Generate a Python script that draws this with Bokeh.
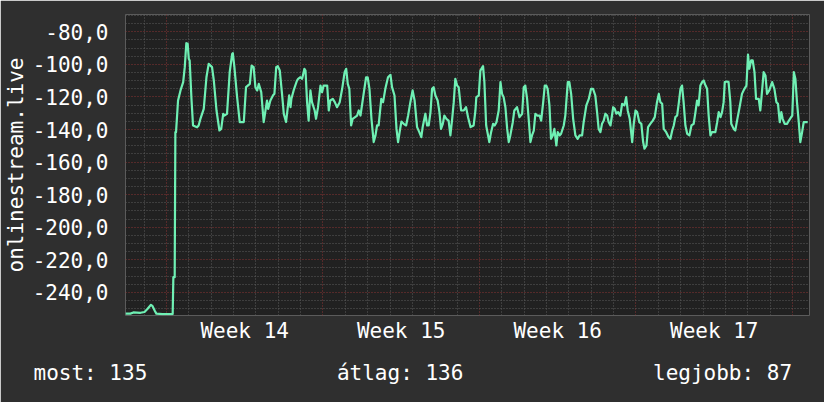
from bokeh.plotting import figure
from bokeh.models import FixedTicker, Range1d, Title
from bokeh.embed import file_html
from bokeh.resources import INLINE

# ---- data (days since start of Week 14, value) ----
days = [
    -1.83, -1.61, -1.48, -1.16, -0.98, -0.85, -0.69, -0.63, -0.51, -0.45,
    -0.18, 0.28, 0.31, 0.37, 0.40, 0.43, 0.52, 0.63, 0.75, 0.82,
    0.89, 0.95, 1.00, 1.04, 1.12, 1.19, 1.37, 1.44, 1.52, 1.67,
    1.79, 1.89, 2.04, 2.12, 2.24, 2.37, 2.45, 2.54, 2.59, 2.71,
    2.83, 2.94, 2.97, 3.04, 3.16, 3.28, 3.46, 3.56, 3.73, 3.81,
    3.90, 3.98, 4.06, 4.13, 4.24, 4.35, 4.43, 4.50, 4.55, 4.65,
    4.77, 4.83, 4.91, 4.98, 5.07, 5.17, 5.25, 5.35, 5.42, 5.49,
    5.55, 5.59, 5.69, 5.84, 5.89, 5.99, 6.07, 6.17, 6.22, 6.29,
    6.36, 6.44, 6.51, 6.63, 6.69, 6.78, 6.89, 6.96, 7.03, 7.19,
    7.26, 7.33, 7.44, 7.53, 7.63, 7.75, 7.86, 7.97, 8.04, 8.11,
    8.18, 8.26, 8.33, 8.53, 8.60, 8.68, 8.82, 8.93, 9.00, 9.08,
    9.17, 9.27, 9.35, 9.42, 9.49, 9.61, 9.69, 9.79, 9.91, 10.02,
    10.09, 10.20, 10.29, 10.36, 10.43, 10.51, 10.61, 10.72, 10.81, 10.91,
    11.01, 11.10, 11.21, 11.31, 11.40, 11.46, 11.58, 11.66, 11.73, 11.81,
    11.88, 11.95, 12.03, 12.13, 12.21, 12.28, 12.36, 12.43, 12.52, 12.62,
    12.70, 12.78, 12.85, 12.92, 13.00, 13.07, 13.18, 13.30, 13.40, 13.49,
    13.60, 13.74, 13.82, 13.86, 13.97, 14.04, 14.16, 14.22, 14.30, 14.37,
    14.44, 14.52, 14.61, 14.68, 14.76, 14.86, 14.94, 15.01, 15.08, 15.16,
    15.24, 15.31, 15.38, 15.49, 15.56, 15.68, 15.79, 15.91, 15.98, 16.05,
    16.13, 16.20, 16.28, 16.35, 16.43, 16.50, 16.58, 16.69, 16.76, 16.85,
    16.92, 16.99, 17.05, 17.13, 17.20, 17.28, 17.35, 17.44, 17.50, 17.59,
    17.65, 17.77, 17.84, 17.95, 18.02, 18.10, 18.19, 18.29, 18.39, 18.48,
    18.59, 18.66, 18.78, 18.89, 18.99, 19.08, 19.18, 19.26, 19.33, 19.41,
    19.48, 19.56, 19.63, 19.71, 19.78, 19.86, 19.98, 20.05, 20.12, 20.20,
    20.30, 20.38, 20.48, 20.56, 20.63, 20.72, 20.83, 20.90, 20.98, 21.05,
    21.15, 21.24, 21.32, 21.38, 21.47, 21.54, 21.64, 21.75, 21.84, 21.94,
    22.02, 22.09, 22.17, 22.24, 22.35, 22.46, 22.54, 22.62, 22.69, 22.76,
    22.84, 22.91, 22.99, 23.06, 23.13, 23.21, 23.29, 23.39, 23.48, 23.58,
    23.66, 23.73, 23.80, 23.88, 23.96, 24.03, 24.11, 24.18, 24.25, 24.33,
    24.40, 24.55, 24.63, 24.70, 24.78, 24.85, 24.92, 24.97, 25.07, 25.14,
    25.22, 25.26, 25.37, 25.44, 25.52, 25.62, 25.74, 25.85, 25.94, 26.01,
    26.07, 26.15, 26.22, 26.30, 26.37, 26.49, 26.56, 26.64, 26.71, 26.79,
    26.86, 26.96, 27.09, 27.19, 27.28, 27.35, 27.43, 27.50, 27.56, 27.65,
    27.76, 27.84, 27.94, 27.99, 28.06, 28.13, 28.20, 28.28, 28.35, 28.43,
    28.50, 28.68,
]
values = [
    -253.0, -253.0, -252.3, -252.5, -252.0, -250.2, -247.6, -248.2, -251.5, -253.0,
    -253.3, -253.3, -230.6, -230.6, -141.6, -141.6, -122.2, -116.0, -110.9, -101.7,
    -87.0, -87.4, -96.6, -97.6, -121.1, -137.5, -138.6, -137.5, -133.5, -127.3,
    -107.9, -99.7, -101.7, -109.9, -128.3, -140.6, -139.6, -130.4, -131.4, -130.4,
    -104.8, -93.6, -93.1, -101.7, -120.0, -135.4, -135.4, -114.0, -112.0, -100.7,
    -101.7, -114.0, -116.0, -112.0, -117.0, -135.4, -128.3, -122.2, -127.3, -122.2,
    -119.0, -118.1, -101.7, -101.1, -103.8, -118.1, -130.4, -135.4, -127.3, -119.0,
    -126.3, -121.1, -116.0, -109.9, -108.9, -107.9, -108.9, -102.7, -103.8, -123.2,
    -134.5, -116.0, -123.2, -128.3, -133.4, -126.3, -113.0, -117.1, -113.0, -113.0,
    -128.3, -122.2, -121.2, -123.2, -126.3, -123.2, -115.0, -104.8, -102.7, -112.0,
    -115.0, -137.5, -133.4, -131.4, -128.3, -131.4, -118.1, -107.9, -107.9, -115.0,
    -133.4, -147.7, -143.6, -137.5, -137.5, -121.2, -123.2, -115.0, -107.9, -106.4,
    -114.0, -119.1, -139.6, -147.7, -141.6, -135.1, -136.5, -137.5, -131.4, -123.2,
    -116.0, -122.2, -138.5, -141.6, -144.7, -138.5, -130.3, -137.5, -137.5, -129.3,
    -115.0, -114.0, -119.1, -122.2, -129.3, -139.6, -136.5, -131.4, -133.4, -134.5,
    -143.6, -133.4, -123.2, -108.9, -113.0, -114.0, -128.3, -128.3, -126.3, -132.4,
    -138.5, -137.5, -128.3, -120.1, -119.1, -103.8, -101.1, -110.9, -137.5, -142.6,
    -147.7, -141.6, -136.5, -137.5, -135.5, -128.3, -110.9, -118.1, -120.1, -126.3,
    -139.6, -147.7, -143.6, -135.5, -128.3, -126.3, -132.4, -130.3, -114.0, -113.0,
    -121.2, -133.4, -147.7, -143.6, -140.6, -130.3, -131.4, -131.4, -134.5, -123.2,
    -113.0, -113.0, -115.0, -125.2, -145.7, -143.6, -139.6, -149.8, -141.6, -143.6,
    -142.6, -137.5, -131.4, -110.9, -110.9, -118.1, -133.4, -143.6, -145.7, -143.6,
    -143.6, -135.5, -125.2, -121.2, -115.0, -115.0, -119.1, -129.3, -139.6, -141.6,
    -136.5, -134.5, -130.3, -131.4, -135.5, -137.5, -126.3, -127.3, -130.3, -129.3,
    -131.4, -124.2, -125.2, -120.1, -128.3, -133.4, -147.7, -136.5, -128.3, -129.3,
    -135.5, -136.5, -147.7, -151.8, -149.8, -138.5, -136.5, -134.5, -132.4, -123.2,
    -118.1, -123.2, -124.2, -139.6, -141.6, -144.7, -145.7, -140.6, -137.5, -132.4,
    -131.4, -124.2, -115.0, -113.0, -123.2, -137.5, -142.6, -143.6, -137.5, -136.5,
    -129.3, -122.2, -125.2, -113.0, -110.9, -109.9, -113.0, -115.0, -131.4, -143.6,
    -141.6, -141.6, -135.5, -129.3, -132.4, -129.3, -123.2, -110.9, -110.5, -110.9,
    -123.2, -136.5, -139.6, -140.6, -134.5, -127.3, -118.1, -115.0, -113.0, -94.0,
    -102.7, -97.6, -97.6, -104.8, -121.2, -121.2, -128.3, -116.0, -104.8, -106.8,
    -118.1, -116.0, -110.9, -115.0, -123.2, -124.2, -135.5, -129.3, -133.4, -136.5,
    -136.5, -134.5, -132.4, -131.4, -104.8, -108.9, -123.2, -135.5, -147.7, -141.6,
    -135.5, -135.5,
]

y_ticks = [-240, -220, -200, -180, -160, -140, -120, -100, -80]
y_tick_labels = ["-240,0", "-220,0", "-200,0", "-180,0", "-160,0",
                 "-140,0", "-120,0", "-100,0", "-80,0"]
y_minor = [v for v in range(-250, -65, 5) if v not in y_ticks]

week_centers = [3.5, 10.5, 17.5, 24.5]
week_labels = ["Week 14", "Week 15", "Week 16", "Week 17"]
week_starts = [0, 7, 14, 21, 28]
day_lines = [d for d in range(-1, 29) if d not in week_starts]

y_axis_title = "onlinestream.live"
legend_texts = ["most: 135", "átlag: 136", "legjobb: 87"]

FONT = "DejaVu Sans Mono"
FS = "21px"
BG = "#2f2f2f"
CANVAS = "#212121"
LINE = "#6ff0b4"
MAJOR_GRID = "#8a3535"
MINOR_GRID = "#5c5c5c"

x0, x1 = -1.83, 28.76
y0, y1 = -254.16, -69.38

p = figure(width=824, height=402, output_backend="svg", toolbar_location=None,
           x_range=Range1d(x0, x1), y_range=Range1d(y0, y1),
           background_fill_color=CANVAS, border_fill_color=BG,
           min_border_left=125, min_border_right=15, min_border_top=14,
           min_border_bottom=87)
p.outline_line_color = None

# y axis
p.yaxis.ticker = FixedTicker(ticks=y_ticks, minor_ticks=y_minor)
p.yaxis.major_label_overrides = dict(zip(y_ticks, y_tick_labels))
p.yaxis.major_label_standoff = 17
p.yaxis.axis_label = y_axis_title
p.yaxis.axis_label_text_font = FONT
p.yaxis.axis_label_text_font_size = FS
p.yaxis.axis_label_text_font_style = "normal"
p.yaxis.axis_label_text_color = "white"
p.yaxis.axis_label_standoff = 2

# x axis
p.xaxis.ticker = FixedTicker(ticks=week_centers)
p.xaxis.major_label_overrides = dict(zip(week_centers, week_labels))
p.xaxis.major_label_standoff = 3

for ax in (p.xaxis[0], p.yaxis[0]):
    ax.major_label_text_font = FONT
    ax.major_label_text_font_size = FS
    ax.major_label_text_color = "white"
    ax.axis_line_color = None
    ax.major_tick_line_color = None
    ax.minor_tick_line_color = None
    ax.major_tick_out = 0
    ax.major_tick_in = 0
    ax.minor_tick_out = 0
    ax.minor_tick_in = 0

# grids
p.xgrid.ticker = FixedTicker(ticks=week_starts, minor_ticks=day_lines)
for g in (p.xgrid[0], p.ygrid[0]):
    g.grid_line_color = MAJOR_GRID
    g.grid_line_dash = "1 2"
    g.grid_line_width = 1
    g.minor_grid_line_color = MINOR_GRID
    g.minor_grid_line_dash = "1 2"
    g.minor_grid_line_width = 1
    g.level = "underlay"

p.line(days, values, line_color=LINE, line_width=2.2, line_join="round")

# summary row below the chart (monospace, fixed gaps of non-breaking spaces)
gap = "\u00a0" * 15
summary = gap.join(legend_texts)
p.add_layout(Title(text=summary, align="left", offset=-92, standoff=26,
                   text_font=FONT, text_font_size=FS, text_color="white",
                   text_font_style="normal"), "below")

open("out.html", "w").write(file_html(p, INLINE))
